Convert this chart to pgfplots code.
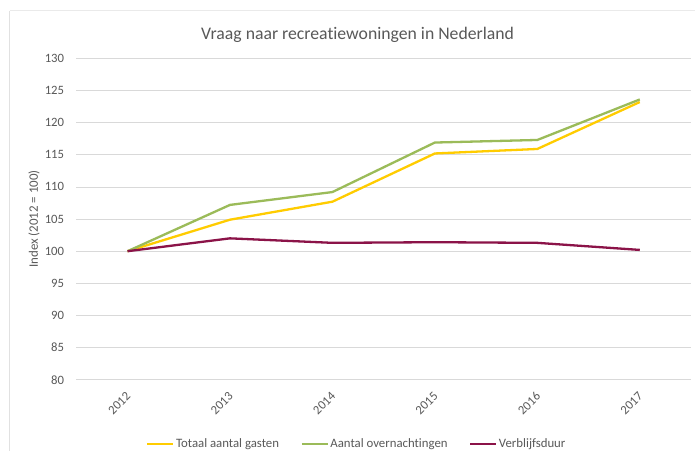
\documentclass[border=0pt]{standalone}
\usepackage{pgfplots}
\pgfplotsset{compat=1.18}
\usepackage{fontspec}
\setmainfont{Carlito}[RawFeature=-liga]
\definecolor{cyel}{RGB}{255,204,0}
\definecolor{cgrn}{RGB}{155,187,89}
\definecolor{cred}{RGB}{139,19,72}
\definecolor{ctxt}{RGB}{89,89,89}
\definecolor{cgrid}{RGB}{217,217,217}
\definecolor{cframe}{RGB}{225,225,225}
\begin{document}
\begin{tikzpicture}[x=1pt,y=1pt]
\useasboundingbox (0,0) rectangle (695,451);
\fill[white] (0,0) rectangle (695,451);
\draw[cframe, line width=1.5pt] (9.5,0) -- (9.5,440);
\draw[cframe!70, line width=1pt] (9.5,440) -- (695,440);
\begin{axis}[
  at={(76.3pt,71.2pt)}, anchor=south west,
  scale only axis, width=614.7pt, height=321.5pt,
  xmin=-0.5, xmax=5.5, ymin=80, ymax=130,
  xtick={0,1,2,3,4,5},
  xticklabels={2012,2013,2014,2015,2016,2017},
  ytick={80,85,90,95,100,105,110,115,120,125,130},
  ymajorgrids, grid style={cgrid, line width=0.8pt},
  axis line style={draw=none},
  major tick length=0pt,
  /pgf/number format/assume math mode=true,
  tick label style={font=\fontsize{12.7}{15}\selectfont, text=ctxt},
  yticklabel style={inner sep=0pt, xshift=-12pt},
  xticklabel style={anchor=east, inner sep=0pt, xshift=1pt, yshift=-14.5pt, rotate=45},
  ylabel={Index (2012 = 100)},
  ylabel style={at={(axis description cs:-0.0688,0.5)}, anchor=center, font=\fontsize{12.9}{15}\selectfont, text=ctxt},
  legend columns=3,
  legend style={draw=none, fill=none, at={(axis description cs:0.456,-0.2)}, anchor=center,
    font=\fontsize{12.8}{15}\selectfont, text=ctxt,
    /tikz/every even column/.append style={column sep=20pt},
    /tikz/every odd column/.append style={column sep=0pt},
    nodes={inner xsep=1.5pt}},
  legend image code/.code={\draw[#1] (0pt,0pt) -- (26pt,0pt);},
  every axis plot/.append style={line width=2.3pt, line join=round},
]
\addplot[cyel] coordinates {(0,100) (1,104.9) (2,107.7) (3,115.2) (4,115.9) (5,123.2)};
\addlegendentry{Totaal aantal gasten}
\addplot[cgrn] coordinates {(0,100) (1,107.2) (2,109.2) (3,116.9) (4,117.3) (5,123.6)};
\addlegendentry{Aantal overnachtingen}
\addplot[cred] coordinates {(0,100) (1,102.0) (2,101.3) (3,101.4) (4,101.3) (5,100.2)};
\addlegendentry{Verblijfsduur}
\end{axis}
\node[anchor=base, text=ctxt, font=\fontsize{17.7}{21}\selectfont] at (357.5,411.5) {Vraag naar recreatiewoningen in Nederland};
\end{tikzpicture}
\end{document}
